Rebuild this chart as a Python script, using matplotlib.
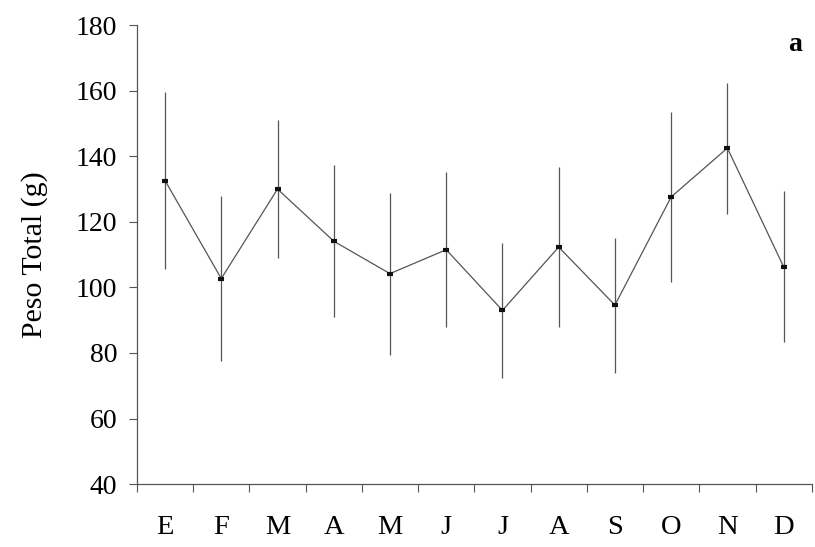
import matplotlib.pyplot as plt
import numpy as np

plt.rcParams['font.family'] = ['Liberation Serif', 'DejaVu Serif']

meses = ['E', 'F', 'M', 'A', 'M', 'J', 'J', 'A', 'S', 'O', 'N', 'D']
peso_medio = [132.6, 102.7, 130.0, 114.1, 104.2, 111.5, 93.0, 112.3, 94.6, 127.6, 142.5, 106.3]
desvio = [26.9, 25.2, 21.1, 23.2, 24.7, 23.6, 20.6, 24.4, 20.6, 25.9, 20.0, 23.0]

fig = plt.figure(figsize=(8.15, 5.47), dpi=100)
ax = fig.add_axes([0.168, 0.115, 0.828, 0.839])

x = np.arange(len(meses))
ax.errorbar(x, peso_medio, yerr=desvio, fmt='none', ecolor='#555555',
            elinewidth=0.9, capsize=0)
ax.plot(x, peso_medio, color='#555555', lw=0.9, zorder=3)
# marcadores pequenos e retangulares
ax.plot(x, peso_medio, ls='none', marker='_', ms=5, mew=3, color='#111111',
        zorder=4)

ax.set_xlim(-0.5, len(meses) - 0.5)
ax.set_ylim(40, 180)
ax.set_yticks(np.arange(40, 181, 20))
ax.set_xticks(x)
ax.set_xticklabels(meses)
ax.set_xticks(np.arange(-0.5, len(meses), 1), minor=True)

ax.tick_params(axis='y', direction='out', length=6, width=0.8, color='#555555',
               labelsize=20, pad=8)
ax.tick_params(axis='x', which='major', length=0, labelsize=20.5, pad=22)
ax.tick_params(axis='x', which='minor', direction='out', length=6, width=0.8,
               color='#555555')

for s in ['top', 'right']:
    ax.spines[s].set_visible(False)
for s in ['left', 'bottom']:
    ax.spines[s].set_color('#555555')
    ax.spines[s].set_linewidth(0.9)

ax.set_ylabel('Peso Total (g)', fontsize=21.5, labelpad=20)
ax.text(0.985, 0.985, 'a', transform=ax.transAxes, fontsize=20,
        fontweight='bold', ha='right', va='top')

fig.savefig('out.png', dpi=100)
